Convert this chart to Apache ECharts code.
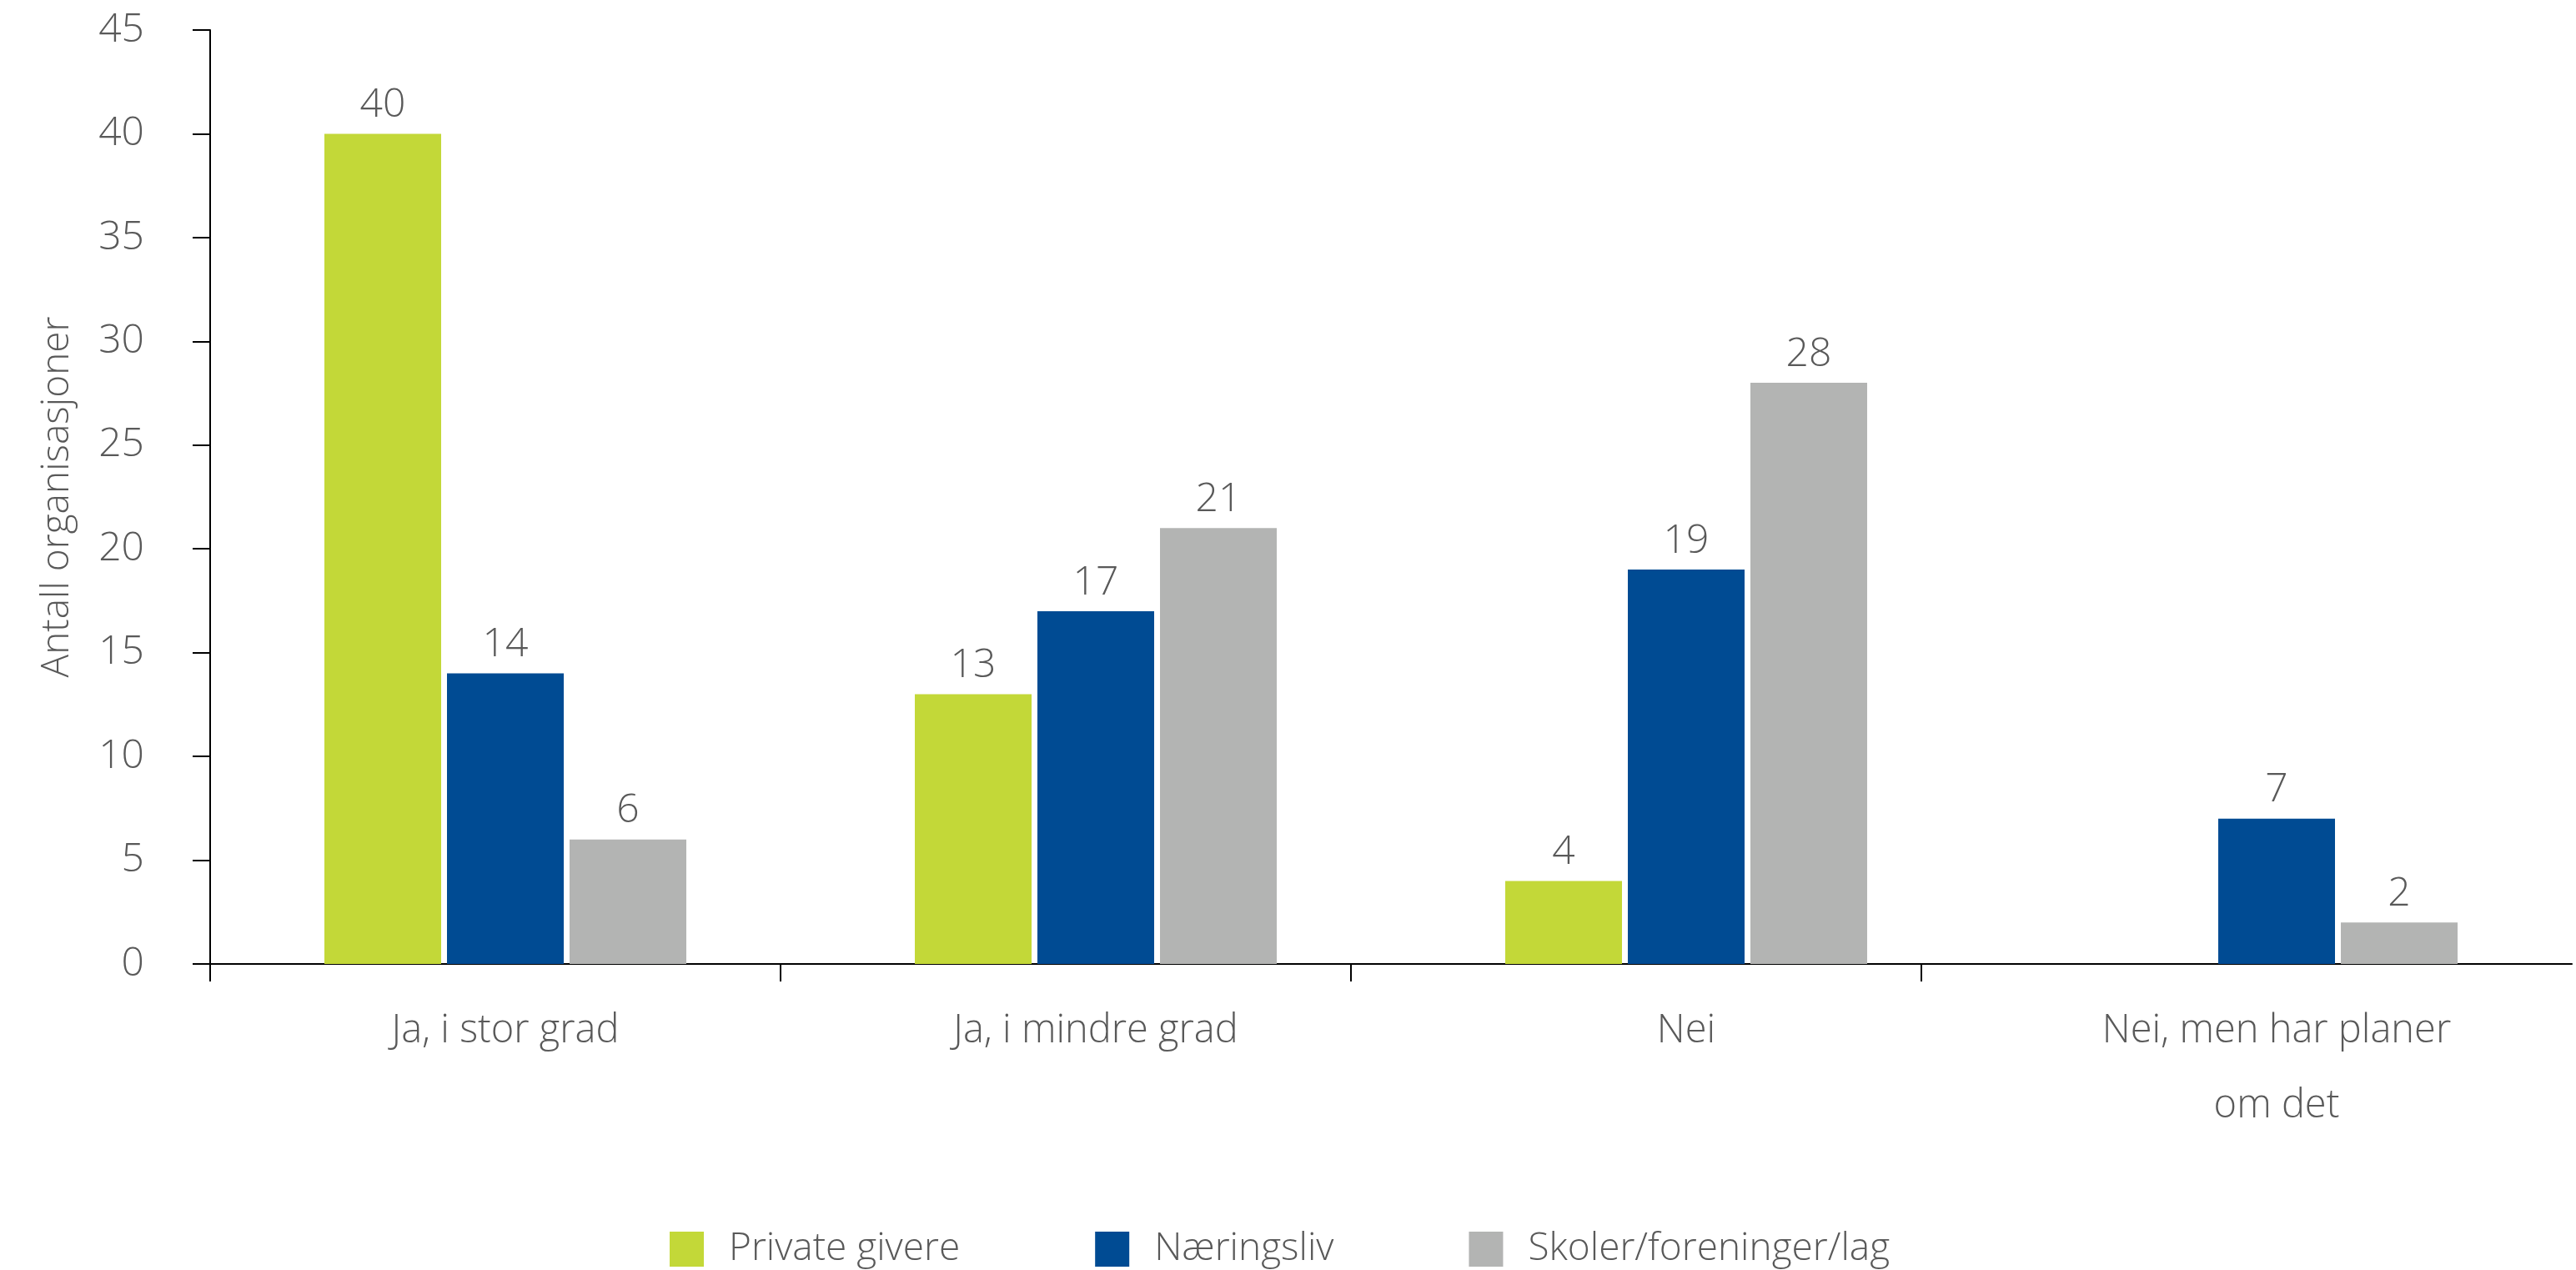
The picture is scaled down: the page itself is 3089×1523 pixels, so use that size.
<!DOCTYPE html>
<html>
<head>
<meta charset="utf-8">
<script src="https://cdn.jsdelivr.net/npm/echarts@6/dist/echarts.min.js"></script>
<style>
html,body{margin:0;padding:0;background:#fff;}
#chart{width:3089px;height:1523px;}
</style>
</head>
<body>
<div id="chart"></div>
<script>
const categories = ['Ja, i stor grad', 'Ja, i mindre grad', 'Nei', 'Nei, men har planer\nom det'];
const seriesNames = ['Private givere', 'Næringsliv', 'Skoler/foreninger/lag'];
const privateGivere = [40, 13, 4, null];
const naeringsliv = [14, 17, 19, 7];
const skoler = [6, 21, 28, 2];
const yTicks = { min: 0, max: 45, interval: 5 };
const colors = ['#C3D838', '#004B93', '#B3B4B3'];

const FONT = '"Open Sans", "Noto Sans", sans-serif';
const TXT = '#595959';

const chart = echarts.init(document.getElementById('chart'), null, { renderer: 'canvas' });

function barSeries(name, data, color) {
  return {
    name: name,
    type: 'bar',
    data: data,
    barWidth: 140,
    barGap: '5%',
    itemStyle: { color: color },
    label: {
      show: true,
      position: 'top',
      distance: 10,
      color: TXT,
      fontFamily: FONT,
      fontWeight: 300,
      fontSize: 48
    },
    emphasis: { disabled: true }
  };
}

chart.setOption({
  animation: false,
  backgroundColor: '#fff',
  color: colors,
  grid: { left: 252, right: 5, top: 36, bottom: 367, containLabel: false },
  legend: {
    left: 798,
    top: 1470,
    itemWidth: 41,
    itemHeight: 42,
    itemGap: 162,
    icon: 'rect',
    selectedMode: false,
    textStyle: { color: TXT, fontFamily: FONT, fontWeight: 300, fontSize: 46, padding: [0, 0, 0, 25] },
    data: seriesNames
  },
  xAxis: [{
    type: 'category',
    data: categories,
    axisLine: { show: true, lineStyle: { color: '#000', width: 2 } },
    axisTick: { show: false },
    axisLabel: { color: TXT, fontFamily: FONT, fontWeight: 300, fontSize: 47, lineHeight: 90, margin: 36, interval: 0 }
  }, {
    type: 'value',
    position: 'bottom',
    min: 0,
    max: 4.14,
    axisLine: { show: false },
    splitLine: { show: false },
    axisLabel: { show: false },
    axisTick: { show: true, length: 21, customValues: [0, 1, 2, 3], lineStyle: { color: '#000', width: 2 } }
  }],
  yAxis: {
    type: 'value',
    min: yTicks.min,
    max: yTicks.max,
    interval: yTicks.interval,
    name: 'Antall organisasjoner',
    nameLocation: 'middle',
    nameGap: 160,
    nameTextStyle: { color: TXT, fontFamily: FONT, fontWeight: 300, fontSize: 46 },
    axisLine: { show: true, lineStyle: { color: '#000', width: 2 } },
    axisTick: { show: true, length: 21, lineStyle: { color: '#000', width: 2 } },
    splitLine: { show: false },
    axisLabel: { color: TXT, fontFamily: FONT, fontWeight: 300, fontSize: 48, margin: 79 }
  },
  series: [
    barSeries(seriesNames[0], privateGivere, colors[0]),
    barSeries(seriesNames[1], naeringsliv, colors[1]),
    barSeries(seriesNames[2], skoler, colors[2])
  ]
});
</script>
</body>
</html>
